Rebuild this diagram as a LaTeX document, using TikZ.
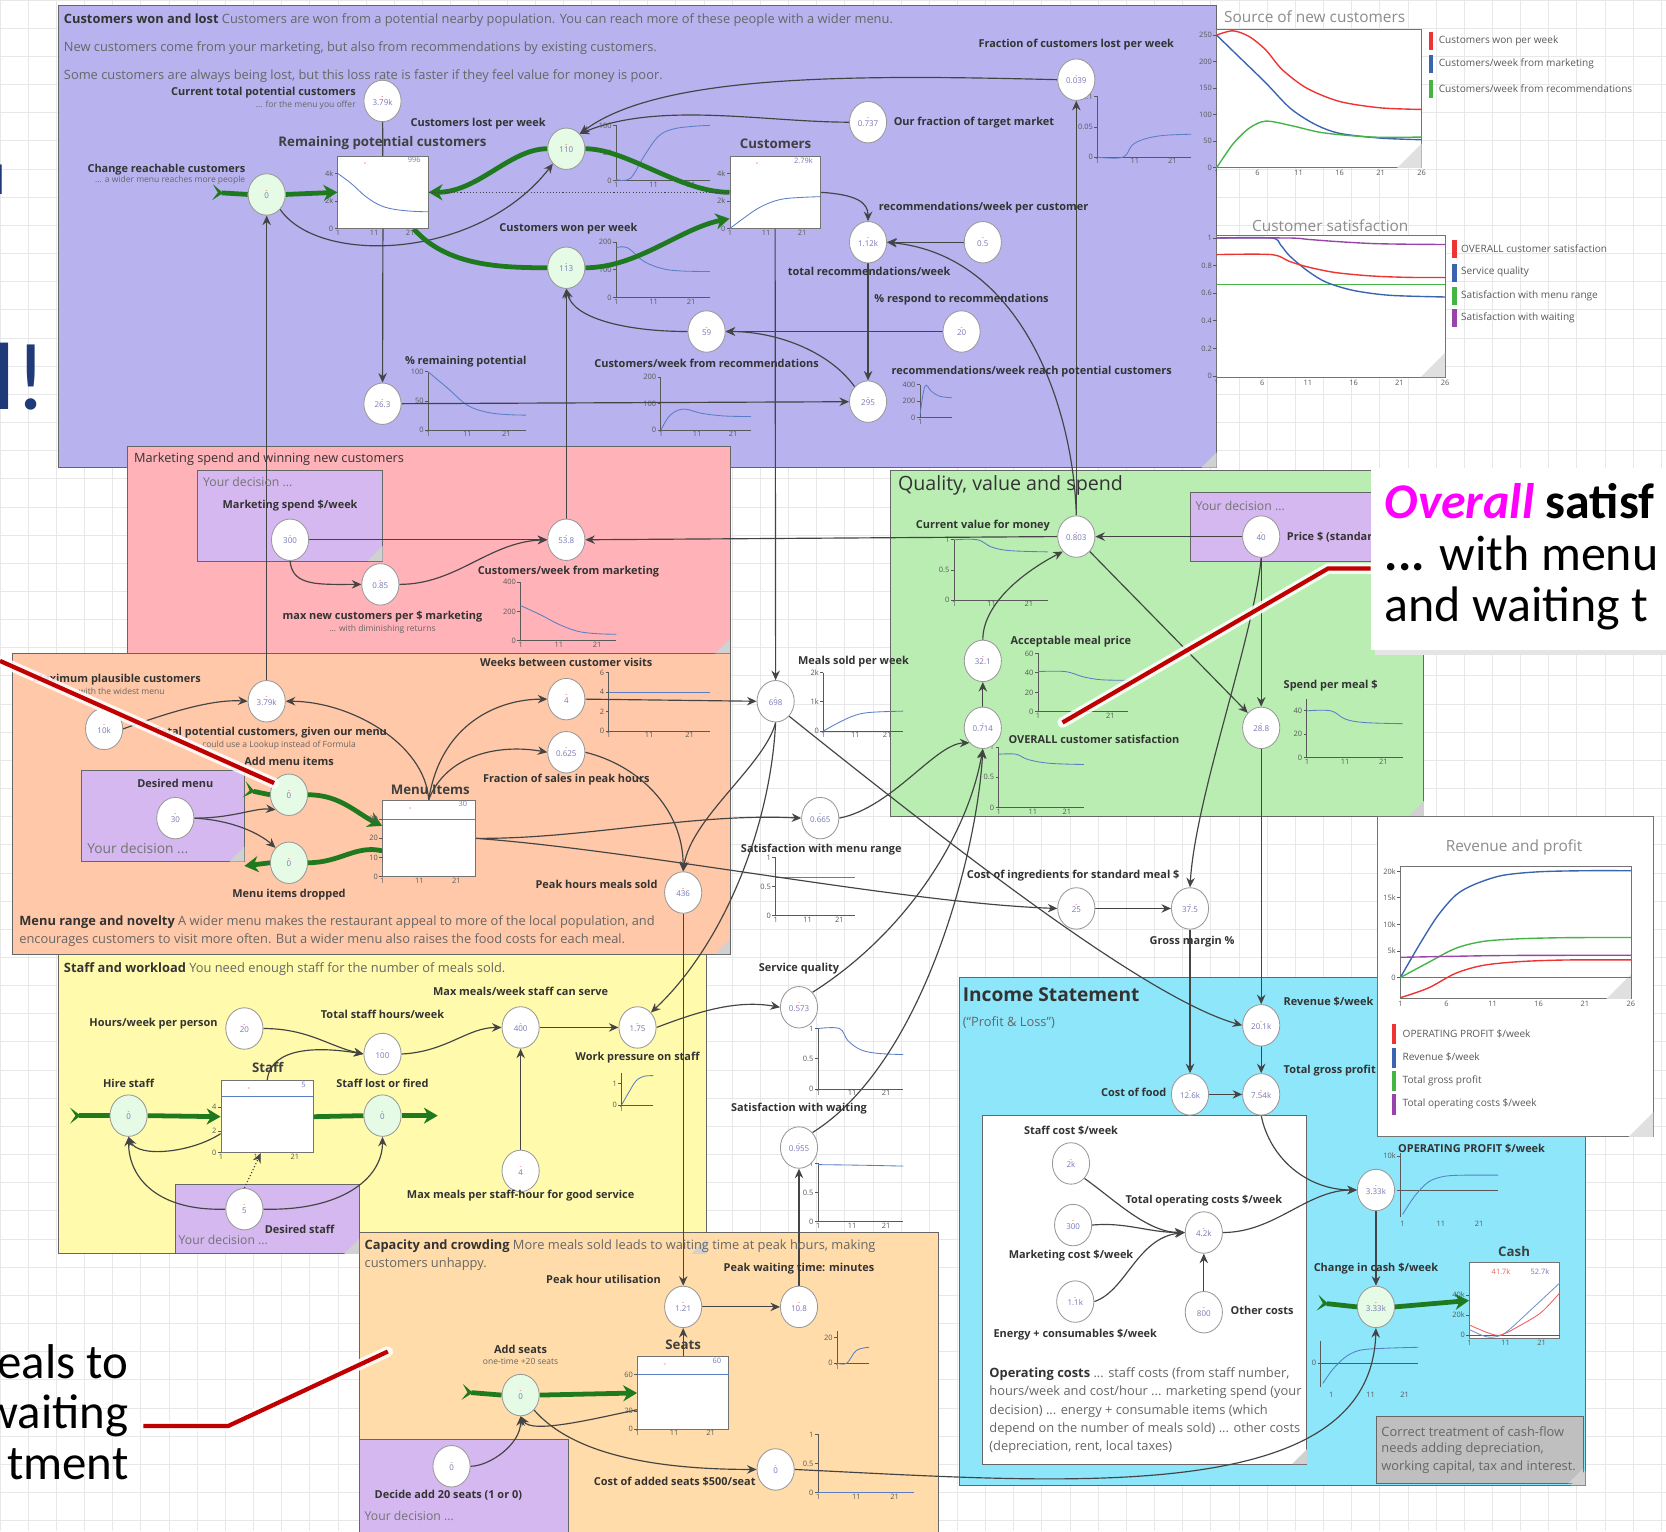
\documentclass[tikz,border=0pt]{standalone}
\usepackage{fontspec}
\setmainfont{Open Sans}
\newfontfamily\slidefont{Carlito}
\usetikzlibrary{shapes.geometric,arrows.meta,calc}
\definecolor{cpurple}{HTML}{B8B2EE}
\definecolor{cpink}{HTML}{FFB2B8}
\definecolor{corange}{HTML}{FFC8A8}
\definecolor{cyellow}{HTML}{FFFAAC}
\definecolor{ccap}{HTML}{FFDCAA}
\definecolor{cgreen}{HTML}{B9EDB2}
\definecolor{ccyan}{HTML}{8DE6FA}
\definecolor{cdec}{HTML}{D5B8F0}
\definecolor{flowfill}{HTML}{E6FBE6}
\definecolor{gflowc}{HTML}{1F7A1F}
\definecolor{conn}{HTML}{444444}
\definecolor{valc}{HTML}{7777B5}
\definecolor{curvec}{HTML}{5A7EC6}
\definecolor{navy}{HTML}{1F3A78}
\definecolor{redline}{HTML}{C00000}
\definecolor{cred}{HTML}{EE3333}
\definecolor{cblue}{HTML}{3A64B0}
\definecolor{cgrn}{HTML}{44B444}
\definecolor{cpur}{HTML}{9944AA}
\definecolor{cmag}{HTML}{FF00FF}
\pgfdeclarelayer{bg}\pgfdeclarelayer{mid}\pgfsetlayers{bg,mid,main}
\tikzset{
 region/.style={draw=black!60,line width=0.8pt},
 var/.style={ellipse,draw=black!40,fill=white,minimum width=35pt,minimum height=39pt,inner sep=0pt,align=center,font=\fontsize{7.5}{8}\selectfont,line width=0.8pt},
 flowv/.style={var,fill=flowfill},
 stockb/.style={rectangle,draw=black!55,fill=white,line width=0.8pt,inner sep=0pt},
 arr/.style={draw=conn,line width=1.1pt,-{Stealth[length=9pt,width=8pt,inset=3pt]}},
 lnk/.style={draw=conn,line width=1.1pt},
 gline/.style={draw=gflowc,line width=4.5pt},
 gflow/.style={gline,-{Stealth[length=13pt,width=15pt,inset=4pt]}},
 gsrc/.style={gline,{Stealth[reversed,length=10pt,width=15pt,inset=5pt]}-},
 lb/.style={font=\fontsize{10.3}{11}\selectfont\bfseries,text=black!80,inner sep=1pt},
 sb/.style={font=\fontsize{8}{9}\selectfont,text=black!60,inner sep=1pt},
 st/.style={font=\fontsize{12.5}{14}\selectfont\bfseries,text=black!75,inner sep=1pt},
 desc/.style={font=\fontsize{12.1}{13}\selectfont,text=black!60,inner sep=0pt,anchor=west},
 ttl/.style={font=\fontsize{18.5}{20}\selectfont,text=black!80,inner sep=0pt,anchor=west},
 yd/.style={font=\fontsize{11.5}{14}\selectfont,text=black!55,inner sep=0pt,anchor=west},
 tickl/.style={font=\fontsize{7}{8}\selectfont,text=black!65,inner sep=1pt},
 axisc/.style={black!65,line width=0.8pt},
 curvl/.style={curvec,line width=0.8pt},
 leg/.style={font=\fontsize{9.5}{10}\selectfont,text=black!65,inner sep=0pt,anchor=west},
 chtitle/.style={font=\fontsize{14.5}{16}\selectfont,text=black!45,inner sep=0pt},
 glow/.style={white,line width=10pt,opacity=0.85,line cap=round,line join=round},
 redl/.style={redline,line width=4pt,line join=miter},
}
\newcommand\vv[1]{\textcolor{red!80}{\fontsize{6}{6}\selectfont -}\\[-2pt]\textcolor{valc}{#1}}
\newcommand\mch[7]{%
\begin{scope}[shift={(#1,#2)},x={(#3pt,0pt)},y={(0pt,#4pt)}]
\draw[axisc] (0,1)--(0,0)--(1,0);
\foreach \pa/\pb in {#5}{\draw[axisc] (0,\pa)--++(-3pt,0pt) node[tickl,anchor=east]{\pb};}
\foreach \pa/\pb in {#7}{\node[tickl,anchor=north] at (\pa,0) {\pb};}
\draw[curvl] plot[smooth,tension=0.6] coordinates {#6};
\end{scope}}
\newcommand\stk[7]{%
\begin{scope}[shift={(#1,#2)},x={(#3pt,0pt)},y={(0pt,#4pt)}]
\foreach \pa/\pb in {#5}{\draw[axisc] (0,\pa)--++(-3pt,0pt) node[tickl,anchor=east]{\pb};}
\foreach \pa/\pb in {0/1,0.4/11,0.8/21}{\node[tickl,anchor=north] at (\pa,0) {\pb};}
\draw[curvl] plot[smooth,tension=0.6] coordinates {#6};
\node[tickl,anchor=north east,text=valc] at (0.93,1) {#7};
\node[tickl,text=red!80] at (0.3,0.88) {-};
\end{scope}}
\newcommand\crn[2]{\fill[black!18] ({#1-14},#2)--(#1,#2)--(#1,{#2-14})--cycle;}
\begin{document}
\begin{tikzpicture}[x=1pt,y=-1pt]
\useasboundingbox (0,0) rectangle (1568,1441);
\begin{pgfonlayer}{bg}
\fill[white] (0,0) rectangle (1568,1441);
\draw[black!9,line width=0.6pt,step=26.5pt] (0,1441) grid (1568,0);
% regions
\filldraw[region,fill=cpurple] (55,5) rectangle (1145,440);
\filldraw[region,fill=cpink] (120,420) rectangle (687,615);
\filldraw[region,fill=corange] (12,615) rectangle (687,898);
\filldraw[region,fill=cyellow] (55,898) rectangle (665,1180);
\filldraw[region,fill=ccap] (338,1160) rectangle (883,1445);
\filldraw[region,fill=cgreen] (838,443) rectangle (1340,768);
\filldraw[region,fill=ccyan] (903,920) rectangle (1492,1398);
\filldraw[region,fill=white] (925,1050) rectangle (1230,1378);
\filldraw[region,fill=black!25] (1295,1333) rectangle (1490,1396);
\filldraw[region,fill=cdec] (186,443) rectangle (360,528);
\filldraw[region,fill=cdec] (77,725) rectangle (230,811);
\filldraw[region,fill=cdec] (165,1115) rectangle (338,1180);
\filldraw[region,fill=cdec] (1120,463) rectangle (1300,528);
\filldraw[region,fill=cdec] (338,1355) rectangle (535,1445);
\crn{1145}{440}\crn{687}{615}\crn{687}{898}\crn{665}{1180}\crn{1340}{768}
\crn{1492}{1398}\crn{1230}{1378}\crn{1490}{1396}\crn{360}{528}\crn{230}{811}\crn{338}{1180}
% mini charts
\mch{580}{170}{88}{52}{1/100,0.5/50,0/0}{(0,0.02)(0.15,0.04)(0.3,0.45)(0.45,0.8)(0.6,0.93)(0.8,0.98)(1,1)}{0/1,0.4/11,0.8/21}
\mch{580}{280}{88}{52}{1/200,0.5/100,0/0}{(0,0.9)(0.12,0.9)(0.3,0.65)(0.5,0.52)(0.7,0.48)(1,0.47)}{0/1,0.4/11,0.8/21}
\mch{1033}{148}{88}{57}{1/0.1,0.5/0.05,0/0}{(0,0)(0.27,0)(0.37,0.2)(0.5,0.3)(0.7,0.36)(1,0.38)}{0/1,0.4/11,0.8/21}
\mch{403}{405}{92}{55}{1/100,0.5/50,0/0}{(0,1)(0.2,0.72)(0.4,0.43)(0.6,0.31)(0.8,0.27)(1,0.26)}{0/1,0.4/11,0.8/21}
\mch{622}{405}{85}{50}{1/200,0.5/100,0/0}{(0,0)(0.1,0.28)(0.25,0.4)(0.45,0.32)(0.7,0.27)(1,0.26)}{0/1,0.4/11,0.8/21}
\mch{866}{393}{30}{31}{1/400,0.5/200,0/0}{(0,0.1)(0.15,0.95)(0.35,0.8)(0.6,0.65)(1,0.6)}{0/1}
\mch{490}{603}{90}{55}{1/400,0.5/200,0/0}{(0,0.6)(0.2,0.45)(0.4,0.28)(0.6,0.16)(0.8,0.12)(1,0.11)}{0/1,0.4/11,0.8/21}
\mch{573}{688}{95}{55}{1/6,0.667/4,0.333/2,0/0}{(0,0.667)(1,0.667)}{0/1,0.4/11,0.8/21}
\mch{775}{688}{75}{55}{1/2k,0.5/1k,0/0}{(0,0)(0.2,0.15)(0.4,0.27)(0.6,0.32)(1,0.34)}{0/1,0.4/11,0.8/21}
\mch{730}{862}{75}{55}{1/1,0.5/0.5,0/0}{(0,0.665)(1,0.665)}{0/1,0.4/11,0.8/21}
\mch{770}{1025}{80}{57}{1/1,0.5/0.5,0/0}{(0,1)(0.25,1)(0.35,0.8)(0.5,0.65)(0.7,0.59)(1,0.57)}{0/1,0.4/11,0.8/21}
\mch{770}{1150}{80}{55}{1/1,0.5/0.5,0/0}{(0,0.98)(0.5,0.97)(1,0.955)}{0/1,0.4/11,0.8/21}
\mch{898}{565}{88}{57}{1/1,0.5/0.5,0/0}{(0,1)(0.25,1)(0.4,0.88)(0.6,0.82)(1,0.8)}{0/1,0.4/11,0.8/21}
\mch{977}{670}{85}{55}{1/60,0.667/40,0.333/20,0/0}{(0,0.69)(0.3,0.69)(0.5,0.6)(0.7,0.55)(1,0.54)}{0/1,0.4/11,0.8/21}
\mch{940}{760}{80}{57}{1/1,0.5/0.5,0/0}{(0,0.88)(0.2,0.88)(0.35,0.79)(0.6,0.73)(1,0.71)}{0/1,0.4/11,0.8/21}
\mch{1230}{713}{90}{55}{0.8/40,0.4/20,0/0}{(0,0.8)(0.25,0.8)(0.4,0.66)(0.6,0.6)(1,0.58)}{0/1,0.4/11,0.8/21}
\mch{788}{1283}{30}{30}{0.8/20,0/0}{(0,0)(0.3,0)(0.6,0.4)(1,0.5)}{0/1}
\mch{585}{1040}{30}{30}{0.67/1,0/0}{(0,0)(0.2,0.35)(0.45,0.75)(0.7,0.9)(1,0.92)}{0/1}
\mch{770}{1405}{90}{55}{1/1,0.5/0.5,0/0}{(0,0.01)(1,0.01)}{0/1,0.4/11,0.8/21}
% operating profit chart
\draw[axisc] (1318,1085)--(1318,1145);
\draw[axisc] (1318,1120)--(1410,1120);
\draw[axisc] (1318,1120)--++(-3,0) node[tickl,anchor=east]{0};
\draw[axisc] (1318,1088)--++(-3,0) node[tickl,anchor=east]{10k};
\draw[curvl] plot[smooth] coordinates {(1320,1143)(1332,1125)(1345,1112)(1360,1107)(1380,1106)(1410,1106)};
\node[tickl] at (1320,1152) {1};\node[tickl] at (1356,1152) {11};\node[tickl] at (1392,1152) {21};
% change in cash chart
\draw[axisc] (1243,1262)--(1243,1305);
\draw[axisc] (1243,1283)--(1335,1283);
\draw[axisc] (1243,1283)--++(-3,0) node[tickl,anchor=east]{0};
\draw[curvl] plot[smooth] coordinates {(1245,1302)(1255,1288)(1268,1276)(1285,1270)(1335,1268)};
\node[tickl] at (1253,1313) {1};\node[tickl] at (1290,1313) {11};\node[tickl] at (1322,1313) {21};
% Source of new customers
\node[chtitle,anchor=west] at (1152,16) {Source of new customers};
\filldraw[fill=white,draw=black!55,line width=0.8pt] (1145,28) rectangle (1338,158);
\fill[black!12] (1315,158)--(1338,158)--(1338,135)--cycle;
\foreach \v in {0,50,100,150,200,250}{\draw[axisc] (1145,{158-0.5*\v})--++(-3,0) node[tickl,anchor=east]{\v};}
\foreach \n in {1,6,11,16,21,26}{\node[tickl,anchor=north] at ({1145+7.72*(\n-1)},159) {\n};}
\begin{scope}[shift={(1145,158)},x={(7.72pt,0pt)},y={(0pt,0.5pt)}]
\draw[cred,line width=1.3pt] plot[smooth] coordinates {(0,250)(2,258)(4,247)(6,222)(8,185)(11,150)(15,125)(20,113)(25,110)};
\draw[cblue,line width=1.3pt] plot[smooth] coordinates {(0,250)(3,205)(6,160)(9,112)(12,82)(15,65)(20,56)(25,53)};
\draw[cgrn,line width=1.3pt] plot[smooth] coordinates {(0,0)(2,45)(4,75)(6,88)(9,80)(13,66)(19,58)(25,58)};
\end{scope}
\fill[cred] (1345,30) rectangle (1349,47);\node[leg] at (1354,38) {Customers won per week};
\fill[cblue] (1345,52) rectangle (1349,69);\node[leg] at (1354,60) {Customers/week from marketing};
\fill[cgrn] (1345,75) rectangle (1349,92);\node[leg] at (1354,83) {Customers/week from recommendations};
% Customer satisfaction
\node[chtitle] at (1252,212) {Customer satisfaction};
\filldraw[fill=white,draw=black!55,line width=0.8pt] (1145,222) rectangle (1360,355);
\fill[black!12] (1337,355)--(1360,355)--(1360,332)--cycle;
\foreach \v/\w in {0/0,0.2/0.2,0.4/0.4,0.6/0.6,0.8/0.8,1/1}{\draw[axisc] (1145,{354-130*\v})--++(-3,0) node[tickl,anchor=east]{\w};}
\foreach \n in {1,6,11,16,21,26}{\node[tickl,anchor=north] at ({1145+8.6*(\n-1)},357) {\n};}
\begin{scope}[shift={(1145,354)},x={(8.6pt,0pt)},y={(0pt,130pt)}]
\draw[cgrn,line width=1.3pt] (0,0.665)--(25,0.665);
\draw[cblue,line width=1.3pt] plot[smooth] coordinates {(0,1)(6,1)(7,0.95)(8,0.87)(10,0.76)(12,0.68)(15,0.62)(19,0.585)(25,0.573)};
\draw[cred,line width=1.3pt] plot[smooth] coordinates {(0,0.88)(6,0.88)(8,0.83)(10,0.79)(13,0.75)(17,0.725)(21,0.715)(25,0.714)};
\draw[cpur,line width=1.3pt] plot[smooth] coordinates {(0,1)(8,1)(10,0.99)(13,0.975)(17,0.96)(21,0.955)(25,0.953)};
\end{scope}
\fill[cred] (1367,226) rectangle (1371,243);\node[leg] at (1375,234) {OVERALL customer satisfaction};
\fill[cblue] (1367,248) rectangle (1371,265);\node[leg] at (1375,256) {Service quality};
\fill[cgrn] (1367,270) rectangle (1371,287);\node[leg] at (1375,278) {Satisfaction with menu range};
\fill[cpur] (1367,291) rectangle (1371,308);\node[leg] at (1375,299) {Satisfaction with waiting};
% Revenue and profit
\filldraw[fill=white,draw=black!55,line width=0.8pt] (1296,768) rectangle (1556,1070);
\fill[black!12] (1533,1070)--(1556,1070)--(1556,1047)--cycle;
\node[chtitle] at (1425,798) {Revenue and profit};
\filldraw[fill=white,draw=black!55,line width=0.8pt] (1318,815) rectangle (1535,940);
\fill[black!12] (1512,940)--(1535,940)--(1535,917)--cycle;
\draw[black!55,line width=0.8pt] (1318,920)--(1535,920);
\foreach \v/\w in {0/0,5/5k,10/10k,15/15k,20/20k}{\draw[axisc] (1318,{920-5*\v})--++(-3,0) node[tickl,anchor=east]{\w};}
\foreach \n in {1,6,11,16,21,26}{\node[tickl,anchor=north] at ({1318+8.68*(\n-1)},941) {\n};}
\begin{scope}[shift={(1318,920)},x={(8.68pt,0pt)},y={(0pt,5pt)}]
\draw[cblue,line width=1.3pt] plot[smooth] coordinates {(0,0)(2,6)(4,11.5)(6,15.5)(8,17.5)(11,19.2)(15,19.9)(20,20.1)(25,20.1)};
\draw[cgrn,line width=1.3pt] plot[smooth] coordinates {(0,0)(3,2.8)(6,5.5)(9,6.8)(13,7.3)(18,7.5)(25,7.54)};
\draw[cpur,line width=1.3pt] plot[smooth] coordinates {(0,3.8)(6,4.0)(12,4.15)(25,4.2)};
\draw[cred,line width=1.3pt] plot[smooth] coordinates {(0,-3.8)(3,-2)(6,0.8)(9,2.3)(13,3.0)(18,3.3)(25,3.33)};
\end{scope}
\fill[cred] (1310,964) rectangle (1314,983);\node[leg] at (1320,973) {OPERATING PROFIT \$/week};
\fill[cblue] (1310,986) rectangle (1314,1005);\node[leg] at (1320,995) {Revenue \$/week};
\fill[cgrn] (1310,1008) rectangle (1314,1027);\node[leg] at (1320,1017) {Total gross profit};
\fill[cpur] (1310,1030) rectangle (1314,1049);\node[leg] at (1320,1039) {Total operating costs \$/week};
\end{pgfonlayer}

% ---------- nodes ----------
\node[var] (ctp) at (360,95) {\vv{3.79k}};
\node[stockb,minimum width=85pt,minimum height=68pt] (rem) at (360.5,181) {};
\node[flowv] (chg) at (251,183) {\vv{0}};
\node[flowv] (lost) at (533,140) {\vv{110}};
\node[flowv] (won) at (533,252) {\vv{113}};
\node[stockb,minimum width=85pt,minimum height=68pt] (cust) at (729.5,181) {};
\node[var] (frl) at (1013,75) {\vv{0.039}};
\node[var] (oft) at (817,115) {\vv{0.737}};
\node[var] (trw) at (817,228) {\vv{1.12k}};
\node[var] (half) at (925,228) {\vv{0.5}};
\node[var] (resp) at (905,312) {\vv{20}};
\node[var] (cwr) at (665,312) {\vv{59}};
\node[var] (rwr) at (817,378) {\vv{295}};
\node[var] (prem) at (360,380) {\vv{26.3}};
\node[var] (mks) at (273,508) {\vv{300}};
\node[var] (mxn) at (358,550) {\vv{0.85}};
\node[var] (cwm) at (533,508) {\vv{53.8}};
\node[var] (mpc) at (98,686) {\vv{10k}};
\node[var] (tpc) at (251,660) {\vv{3.79k}};
\node[flowv] (addm) at (272,748) {\vv{0}};
\node[flowv] (dropm) at (272,812) {\vv{0}};
\node[var] (dmen) at (165,770) {\vv{30}};
\node[stockb,minimum width=87pt,minimum height=72pt] (menu) at (403.5,789) {};
\node[var] (wbv) at (533,658) {\vv{4}};
\node[var] (fsp) at (533,708) {\vv{0.625}};
\node[var] (phs) at (643,840) {\vv{436}};
\node[var] (msw) at (730,660) {\vv{698}};
\node[var] (smr) at (772,770) {\vv{0.665}};
\node[var] (sq) at (752,948) {\vv{0.573}};
\node[var] (sw) at (752,1080) {\vv{0.955}};
\node[var] (cvm) at (1013,505) {\vv{0.803}};
\node[var] (price) at (1187,505) {\vv{40}};
\node[var] (amp) at (925,622) {\vv{32.1}};
\node[var] (ocs) at (925,685) {\vv{0.714}};
\node[var] (spm) at (1187,685) {\vv{28.8}};
\node[var] (cis) at (1013,855) {\vv{25}};
\node[var] (gm) at (1120,855) {\vv{37.5}};
\node[var] (rev) at (1187,965) {\vv{20.1k}};
\node[var] (tgp) at (1187,1030) {\vv{7.54k}};
\node[var] (cof) at (1120,1030) {\vv{12.6k}};
\node[var] (scw) at (1008,1095) {\vv{2k}};
\node[var] (mcw) at (1010,1153) {\vv{300}};
\node[var] (ecw) at (1012,1225) {\vv{1.1k}};
\node[var] (toc) at (1133,1160) {\vv{4.2k}};
\node[var] (oth) at (1133,1235) {\vv{800}};
\node[var] (opp) at (1295,1120) {\vv{3.33k}};
\node[flowv] (cic) at (1295,1230) {\vv{3.33k}};
\node[stockb,minimum width=85pt,minimum height=72pt] (cash) at (1425.5,1224) {};
\node[var] (hpp) at (230,968) {\vv{20}};
\node[var] (tsh) at (360,992) {\vv{100}};
\node[var] (mms) at (490,967) {\vv{400}};
\node[var] (wps) at (600,967) {\vv{1.75}};
\node[var] (mph) at (490,1102) {\vv{4}};
\node[stockb,minimum width=87pt,minimum height=68pt] (staff) at (251.5,1051) {};
\node[flowv] (hire) at (121,1050) {\vv{0}};
\node[flowv] (slf) at (360,1050) {\vv{0}};
\node[var] (dst) at (230,1138) {\vv{5}};
\node[var] (phu) at (643,1230) {\vv{1.21}};
\node[var] (pwt) at (752,1230) {\vv{10.8}};
\node[stockb,minimum width=86pt,minimum height=68pt] (seats) at (643,1311) {};
\node[flowv] (adds) at (490,1313) {\vv{0}};
\node[var] (dec) at (425,1380) {\vv{0}};
\node[var] (cas) at (730,1383) {\vv{0}};

% stock internals
\stk{318}{215}{85}{68}{0.76/4k,0.38/2k,0/0}{(0,0.76)(0.15,0.62)(0.3,0.45)(0.45,0.33)(0.6,0.27)(0.8,0.24)(1,0.23)}{996}
\stk{687}{215}{85}{68}{0.76/4k,0.38/2k,0/0}{(0,0)(0.15,0.14)(0.3,0.27)(0.45,0.36)(0.6,0.41)(0.8,0.43)(1,0.44)}{2.79k}
\stk{360}{825}{87}{72}{0.75/30,0.5/20,0.25/10,0/0}{(0,0.75)(1,0.75)}{30}
\stk{208}{1085}{87}{68}{0.63/4,0.3/2,0/0}{(0,0.78)(1,0.78)}{5}
\stk{600}{1345}{86}{68}{0.75/60,0.25/20,0/0}{(0,0.75)(1,0.75)}{60}
\begin{scope}[shift={(1383,1260)},x={(85pt,0pt)},y={(0pt,72pt)}]
\foreach \pa/\pb in {0.57/40k,0.31/20k,0.05/0}{\draw[axisc] (0,\pa)--++(-3pt,0pt) node[tickl,anchor=east]{\pb};}
\foreach \pa/\pb in {0/1,0.4/11,0.8/21}{\node[tickl,anchor=north] at (\pa,0) {\pb};}
\draw[axisc] (0,0.05)--(1,0.05);
\draw[cblue!70,line width=0.8pt] plot[smooth] coordinates {(0,0.12)(0.15,0.04)(0.25,0.02)(0.4,0.08)(0.7,0.4)(1,0.73)};
\draw[cred!80,line width=0.8pt] plot[smooth] coordinates {(0,0.18)(0.2,0.08)(0.35,0.05)(0.6,0.2)(0.8,0.35)(1,0.6)};
\node[tickl,text=cred!80] at (0.35,0.88) {41.7k};
\node[tickl,text=valc] at (0.78,0.88) {52.7k};
\end{scope}

% ---------- texts ----------
\node[desc] at (60,19) {\textbf{\textcolor{black!80}{Customers won and lost}} Customers are won from a potential nearby population. You can reach more of these people with a wider menu.};
\node[desc] at (60,45) {New customers come from your marketing, but also from recommendations by existing customers.};
\node[desc] at (60,72) {Some customers are always being lost, but this loss rate is faster if they feel value for money is poor.};
\node[lb,anchor=east] at (336,87) {Current total potential customers};
\node[sb,anchor=east] at (336,99) {... for the menu you offer};
\node[st] at (360,135) {Remaining potential customers};
\node[lb,anchor=east] at (232,160) {Change reachable customers};
\node[sb,anchor=east] at (232,170) {... a wider menu reaches more people};
\node[lb] at (450,116) {Customers lost per week};
\node[lb] at (535,215) {Customers won per week};
\node[st] at (730,135) {Customers};
\node[lb] at (1013,42) {Fraction of customers lost per week};
\node[lb,anchor=west] at (840,115) {Our fraction of target market};
\node[lb,anchor=west] at (826,195) {recommendations/week per customer};
\node[lb] at (818,255) {total recommendations/week};
\node[lb] at (905,282) {\% respond to recommendations};
\node[lb] at (665,342) {Customers/week from recommendations};
\node[lb,anchor=west] at (838,350) {recommendations/week reach potential customers};
\node[lb,anchor=west] at (380,340) {\% remaining potential};
% pink
\node[desc,text=black!80,font=\fontsize{12}{13}\selectfont] at (126,432) {Marketing spend and winning new customers};
\node[yd] at (191,454) {Your decision ...};
\node[lb] at (273,476) {Marketing spend \$/week};
\node[lb] at (360,580) {max new customers per \$ marketing};
\node[sb] at (360,592) {... with diminishing returns};
\node[lb] at (535,538) {Customers/week from marketing};
% orange
\node[lb] at (110,640) {Maximum plausible customers};
\node[sb] at (110,651) {... with the widest menu};
\node[lb] at (255,690) {Total potential customers, given our menu};
\node[sb] at (258,701) {... could use a Lookup instead of Formula};
\node[lb] at (272,717) {Add menu items};
\node[lb] at (272,842) {Menu items dropped};
\node[lb] at (165,737) {Desired menu};
\node[yd,font=\fontsize{13}{15}\selectfont] at (82,798) {Your decision ...};
\node[st] at (405,743) {Menu Items};
\node[lb] at (533,623) {Weeks between customer visits};
\node[lb] at (533,734) {Fraction of sales in peak hours};
\node[lb,anchor=east] at (620,832) {Peak hours meals sold};
\node[desc] at (18,868) {\textbf{\textcolor{black!80}{Menu range and novelty}} A wider menu makes the restaurant appeal to more of the local population, and};
\node[desc] at (18,885) {encourages customers to visit more often. But a wider menu also raises the food costs for each meal.};
% middle
\node[lb,anchor=west] at (750,623) {Meals sold per week};
\node[lb] at (773,800) {Satisfaction with menu range};
\node[lb] at (752,912) {Service quality};
\node[lb] at (752,1043) {Satisfaction with waiting};
% green
\node[ttl] at (845,457) {Quality, value and spend};
\node[yd] at (1125,476) {Your decision ...};
\node[lb] at (925,495) {Current value for money};
\node[lb,anchor=west] at (1210,506) {Price \$ (standard meal)};
\node[lb,anchor=west] at (950,604) {Acceptable meal price};
\node[lb,anchor=west] at (948,696) {OVERALL customer satisfaction};
\node[lb,anchor=west] at (1207,645) {Spend per meal \$};
\node[lb] at (1010,824) {Cost of ingredients for standard meal \$};
\node[lb] at (1122,886) {Gross margin \%};
% income
\node[ttl,font=\fontsize{18}{20}\selectfont\bfseries] at (906,936) {Income Statement};
\node[desc] at (906,962) {(``Profit \& Loss'')};
\node[lb,anchor=west] at (1207,943) {Revenue \$/week};
\node[lb,anchor=west] at (1207,1008) {Total gross profit};
\node[lb,anchor=east] at (1099,1028) {Cost of food};
\node[lb] at (1008,1064) {Staff cost \$/week};
\node[lb] at (1008,1182) {Marketing cost \$/week};
\node[lb] at (1012,1256) {Energy + consumables \$/week};
\node[lb] at (1133,1130) {Total operating costs \$/week};
\node[lb,anchor=west] at (1157,1233) {Other costs};
\node[lb] at (1385,1081) {OPERATING PROFIT \$/week};
\node[lb] at (1295,1194) {Change in cash \$/week};
\node[st] at (1425,1178) {Cash};
\node[desc] at (931,1293) {\textbf{\textcolor{black!80}{Operating costs}} ... staff costs (from staff number,};
\node[desc] at (931,1310) {hours/week and cost/hour ... marketing spend (your};
\node[desc] at (931,1328) {decision) ... energy + consumable items (which};
\node[desc] at (931,1345) {depend on the number of meals sold) ... other costs};
\node[desc] at (931,1362) {(depreciation, rent, local taxes)};
\node[desc] at (1300,1347) {Correct treatment of cash-flow};
\node[desc] at (1300,1364) {needs adding depreciation,};
\node[desc] at (1300,1381) {working capital, tax and interest.};
% yellow
\node[desc] at (60,912) {\textbf{\textcolor{black!80}{Staff and workload}} You need enough staff for the number of meals sold.};
\node[lb,anchor=east] at (206,963) {Hours/week per person};
\node[lb] at (360,955) {Total staff hours/week};
\node[lb] at (490,933) {Max meals/week staff can serve};
\node[lb] at (600,995) {Work pressure on staff};
\node[lb] at (490,1125) {Max meals per staff-hour for good service};
\node[st] at (252,1005) {Staff};
\node[lb] at (121,1020) {Hire staff};
\node[lb] at (360,1020) {Staff lost or fired};
\node[lb] at (282,1157) {Desired staff};
\node[yd] at (168,1167) {Your decision ...};
% capacity
\node[desc] at (343,1173) {\textbf{\textcolor{black!80}{Capacity and crowding}} More meals sold leads to waiting time at peak hours, making};
\node[desc] at (343,1190) {customers unhappy.};
\node[lb] at (568,1204) {Peak hour utilisation};
\node[lb] at (752,1194) {Peak waiting time: minutes};
\node[st] at (643,1266) {Seats};
\node[lb] at (490,1270) {Add seats};
\node[sb] at (490,1281) {one-time +20 seats};
\node[lb] at (422,1407) {Decide add 20 seats (1 or 0)};
\node[yd] at (343,1427) {Your decision ...};
\node[lb] at (635,1394) {Cost of added seats \$500/seat};

% ---------- connectors ----------
\coordinate (s1) at (200,181);
\coordinate (s2) at (230,743);
\coordinate (k2) at (230,815);
\coordinate (s3) at (66,1050);
\coordinate (k3) at (412,1050);
\coordinate (s4) at (435,1310);
\coordinate (s5) at (1240,1226);
\begin{pgfonlayer}{mid}
\draw[lnk] (ctp) -- (rem);
\draw[arr] (rem) -- (prem);
\draw[arr] (prem) -- (rwr);
\draw[arr] (chg.south east) .. controls (300,250) and (450,245) .. (lost.south west);
\draw[gline] (cust.west) .. controls (640,181) and (590,140) .. (lost.east);
\draw[gflow] (lost.west) .. controls (480,140) and (450,181) .. (rem.east);
\draw[conn,line width=1pt,dotted] (rem.east) -- (cust.west);
\draw[gline] (rem.-50) .. controls (420,250) and (470,252) .. (won.west);
\draw[gflow] (won.east) .. controls (600,252) and (640,215) .. (cust.210);
\draw[gsrc] (s1) -- (chg.west);
\draw[gflow] (chg.east) -- (rem.west);
\draw[arr] (frl.west) .. controls (800,70) and (620,70) .. (lost.north east);
\draw[arr] (oft.west) .. controls (720,115) and (620,95) .. (lost.north east);
\draw[arr] (cust.east) .. controls (805,183) and (817,190) .. (trw.north);
\draw[arr] (half) -- (trw);
\draw[arr] (trw) -- (rwr);
\draw[arr] (resp) -- (cwr);
\draw[arr] (rwr.north west) .. controls (780,330) and (730,312) .. (cwr.east);
\draw[arr] (cwr.west) .. controls (590,312) and (540,300) .. (won.south);
\draw[arr] (cwm) -- (won);
\draw[arr] (cust.south) -- (msw.north);
\draw[arr] (cvm) -- (frl);
\draw[arr] (cvm.north) .. controls (1010,380) and (960,240) .. (trw.east);
\draw[arr] (tpc) -- (chg);
% pink
\draw[arr] (mks) -- (cwm);
\draw[arr] (mks.south) .. controls (275,552) and (300,550) .. (mxn.west);
\draw[arr] (mxn.east) .. controls (430,550) and (460,510) .. (cwm.west);
\draw[arr] (cvm.west) -- (cwm.east);
% orange
\draw[arr] (mpc.east) .. controls (160,670) and (200,658) .. (tpc.west);
\draw[arr] (menu.north) .. controls (400,700) and (330,660) .. (tpc.east);
\draw[arr] (menu.north) .. controls (415,680) and (470,658) .. (wbv.west);
\draw[arr] (menu.north) .. controls (420,710) and (470,700) .. (fsp.west);
\draw[arr] (wbv.east) -- (msw.west);
\draw[arr] (fsp.east) .. controls (600,720) and (643,760) .. (phs.north);
\draw[arr] (msw.south) .. controls (720,720) and (650,770) .. (phs.north);
\draw[gsrc] (s2) -- (addm.west);
\draw[gflow] (addm.east) .. controls (320,748) and (335,765) .. (menu.165);
\draw[gline] (menu.195) .. controls (335,795) and (320,812) .. (dropm.east);
\draw[gflow] (dropm.west) -- (k2);
\draw[arr] (dmen.east) .. controls (220,770) and (240,760) .. (addm.south west);
\draw[arr] (dmen.east) .. controls (220,772) and (245,785) .. (dropm.north west);
\draw[arr] (menu.east) .. controls (550,790) and (650,765) .. (smr.west);
\draw[arr] (menu.east) .. controls (600,800) and (850,850) .. (cis.west);
\draw[arr] (phs) -- (phu);
% middle
\draw[arr] (msw.south east) .. controls (900,800) and (1080,940) .. (rev.west);
\draw[arr] (msw.south) .. controls (725,780) and (680,890) .. (wps.north east);
\draw[arr] (smr.east) .. controls (840,760) and (880,700) .. (ocs.south west);
\draw[arr] (wps.east) .. controls (650,955) and (690,940) .. (sq.west);
\draw[arr] (sq.north east) .. controls (850,880) and (910,790) .. (ocs.south);
\draw[arr] (sw.north east) .. controls (870,1000) and (920,800) .. (ocs.south);
\draw[arr] (pwt) -- (sw);
% green
\draw[arr] (price) -- (cvm);
\draw[arr] (ocs) -- (amp);
\draw[arr] (amp.north) .. controls (925,570) and (960,540) .. (cvm.south west);
\draw[arr] (cvm.south east) -- (spm.north west);
\draw[arr] (price) -- (spm);
\draw[arr] (spm) -- (rev);
\draw[arr] (price.south) .. controls (1180,600) and (1125,750) .. (gm.north);
\draw[arr] (cis) -- (gm);
\draw[arr] (gm) -- (cof);
% income
\draw[arr] (rev) -- (tgp);
\draw[arr] (cof) -- (tgp);
\draw[arr] (scw.south east) .. controls (1050,1130) and (1080,1160) .. (toc.west);
\draw[arr] (mcw.east) .. controls (1060,1150) and (1080,1160) .. (toc.west);
\draw[arr] (ecw.east) .. controls (1060,1215) and (1070,1165) .. (toc.west);
\draw[arr] (oth) -- (toc);
\draw[arr] (tgp.south) .. controls (1195,1090) and (1230,1120) .. (opp.west);
\draw[arr] (toc.east) .. controls (1200,1160) and (1230,1120) .. (opp.west);
\draw[arr] (opp) -- (cic);
\draw[gsrc] (s5) -- (cic.west);
\draw[gflow] (cic.east) -- (cash.west);
\draw[arr] (cas.east) .. controls (1000,1395) and (1290,1420) .. (cic.south);
% yellow
\draw[arr] (hpp.east) .. controls (290,968) and (310,985) .. (tsh.west);
\draw[arr] (staff.north) .. controls (255,985) and (300,985) .. (tsh.west);
\draw[arr] (tsh.east) .. controls (420,990) and (440,967) .. (mms.west);
\draw[arr] (mms) -- (wps);
\draw[arr] (mph) -- (mms);
\draw[gsrc] (s3) -- (hire.west);
\draw[gflow] (hire.east) -- (staff.west);
\draw[gline] (staff.east) -- (slf.west);
\draw[gflow] (slf.east) -- (k3);
\draw[arr] (staff.200) .. controls (180,1085) and (130,1090) .. (hire.south);
\draw[arr] (dst.west) .. controls (150,1140) and (121,1110) .. (hire.south);
\draw[arr] (dst.east) .. controls (320,1140) and (360,1110) .. (slf.south);
\draw[arr,dotted] (dst.north) -- (staff.-100);
% capacity
\draw[arr] (phu) -- (pwt);
\draw[arr] (seats.north) -- (phu.south);
\draw[gsrc] (s4) -- (adds.west);
\draw[gflow] (adds.east) -- (seats.west);
\draw[arr] (dec.east) .. controls (460,1380) and (490,1360) .. (adds.south);
\draw[arr] (seats.200) .. controls (560,1335) and (500,1350) .. (adds.south);
\draw[arr] (adds.south east) .. controls (540,1370) and (620,1383) .. (cas.west);
\end{pgfonlayer}

% ---------- slide overlay ----------
\fill[black!10] (1294,444) rectangle (1572,616);
\fill[white] (1290,440) rectangle (1570,612);
\node[anchor=base west,inner sep=0pt,font=\slidefont\fontsize{47}{48}\selectfont\bfseries] at (1303,488) {\textcolor{cmag}{\itshape Overall} satisf};
\node[anchor=base west,inner sep=0pt,font=\slidefont\fontsize{47}{48}\selectfont] at (1303,537) {\textbf{...} with menu};
\node[anchor=base west,inner sep=0pt,font=\slidefont\fontsize{47}{48}\selectfont] at (1303,585) {and waiting t};
\coordinate (r1a) at (1290,535);\coordinate (r1b) at (1250,535);\coordinate (r1c) at (1000,680);
\draw[glow] (r1a)--(r1b)--(r1c);
\draw[redl] (r1a)--(r1b)--(r1c);
\coordinate (r2a) at (0,622);\coordinate (r2b) at (258,737);
\draw[glow] (r2a)--(r2b);
\draw[redl] (r2a)--(r2b);
\coordinate (r3a) at (135,1342);\coordinate (r3b) at (215,1342);\coordinate (r3c) at (365,1272);
\draw[glow] (r3a)--(r3b)--(r3c);
\draw[redl] (r3a)--(r3b)--(r3c);
\node[anchor=base east,inner sep=0pt,font=\slidefont\fontsize{46}{48}\selectfont] at (121,1297) {eals to};
\node[anchor=base east,inner sep=0pt,font=\slidefont\fontsize{46}{48}\selectfont] at (121,1344) {waiting};
\node[anchor=base east,inner sep=0pt,font=\slidefont\fontsize{46}{48}\selectfont] at (121,1392) {tment};
\node[anchor=base east,inner sep=0pt,text=navy,font=\slidefont\fontsize{40}{42}\selectfont] at (5,183) {l};
\node[anchor=base west,inner sep=0pt,text=navy,font=\slidefont\fontsize{90}{92}\selectfont] at (-6,385) {l!};
\end{tikzpicture}
\end{document}
